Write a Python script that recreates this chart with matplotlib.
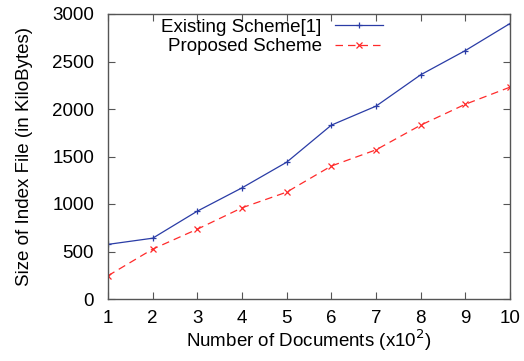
import matplotlib
matplotlib.use("Agg")
import matplotlib.pyplot as plt

plt.rcParams['font.family'] = ['Liberation Sans', 'DejaVu Sans']

docs = [1, 2, 3, 4, 5, 6, 7, 8, 9, 10]
existing = [575, 640, 925, 1170, 1440, 1830, 2030, 2360, 2615, 2900]
proposed = [245, 525, 735, 960, 1125, 1400, 1570, 1830, 2050, 2230]
xticks = [1, 2, 3, 4, 5, 6, 7, 8, 9, 10]
yticks = [0, 500, 1000, 1500, 2000, 2500, 3000]

fig = plt.figure(figsize=(5.24, 3.61), dpi=100)
ax = fig.add_axes([108/524, 1 - 299/361, (510-108)/524, (299-14)/361])

ax.plot(docs, existing, color='#2a3ca6', lw=0.9, marker='+', ms=5, mew=0.9,
        label='Existing Scheme[1]')
ax.plot(docs, proposed, color='#ff2a2a', lw=0.9, ls=(0, (6, 4)), marker='x', ms=4.5, mew=0.9,
        label='Proposed Scheme')

ax.set_xlim(1, 10)
ax.set_ylim(0, 3000)
ax.set_xticks(xticks)
ax.set_yticks(yticks)
ax.tick_params(direction='in', top=True, right=True, labelsize=13.5, length=5, width=0.8, color='#555555')
ax.tick_params(axis='x', pad=8)
ax.tick_params(axis='y', pad=10)
for s in ax.spines.values():
    s.set_color('#555555')
    s.set_linewidth(1.0)
ax.set_xlabel('Number of Documents (x10$^2$)', fontsize=13.5, labelpad=0)
ax.set_ylabel('Size of Index File (in KiloBytes)', fontsize=13.5, labelpad=14)

ax.legend(loc='upper left', bbox_to_anchor=(0.10, 1.03), frameon=False, markerfirst=False,
          fontsize=13.5, handlelength=2.55, labelspacing=0.12, handletextpad=0.7,
          borderaxespad=0.3)

fig.savefig('out.png', dpi=100)
